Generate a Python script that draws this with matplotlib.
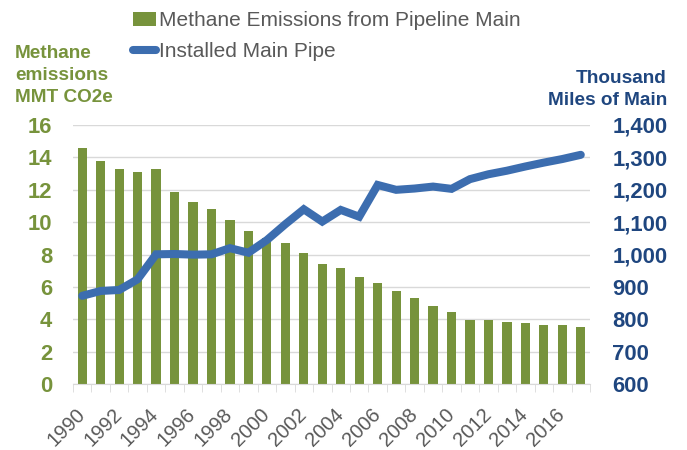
import matplotlib
matplotlib.use('Agg')
import matplotlib.pyplot as plt
import matplotlib.transforms as mtransforms
from matplotlib.patches import Patch
from matplotlib.lines import Line2D
import numpy as np

plt.rcParams['font.family'] = ['Liberation Sans', 'DejaVu Sans']

years = list(range(1990, 2018))
methane = [14.6, 13.78, 13.29, 13.12, 13.29, 11.89, 11.27, 10.82, 10.14, 9.48,
           9.05, 8.70, 8.09, 7.43, 7.17, 6.63, 6.23, 5.76, 5.33, 4.85,
           4.44, 3.99, 3.95, 3.85, 3.76, 3.68, 3.64, 3.54]
main_pipe = [873, 888, 891, 924, 1001, 1002, 1000, 1001, 1020, 1006,
             1045, 1094, 1140, 1102, 1138, 1117, 1215, 1200, 1204, 1210,
             1203, 1233, 1248, 1259, 1272, 1284, 1295, 1308]
left_ticks = [0, 2, 4, 6, 8, 10, 12, 14, 16]
right_ticks = [600, 700, 800, 900, 1000, 1100, 1200, 1300, 1400]

green = '#77933C'
blue = '#3C6DAF'
navy = '#1F467F'
gray = '#595959'

fig = plt.figure(figsize=(6.87, 4.5), dpi=100)
ax = fig.add_axes([73/687, 1 - 384.3/450, (590 - 73)/687, (384.3 - 125)/450])
ax2 = ax.twinx()

x = np.arange(len(years))
ax.bar(x, methane, width=0.5, color=green, zorder=2)
ax.set_ylim(0, 16)
ax.set_xlim(-0.5, len(years) - 0.5)
ax.set_yticks(left_ticks)
ax.yaxis.grid(True, color='#D9D9D9', linewidth=1)
ax.set_axisbelow(True)
for s in ax.spines.values():
    s.set_visible(False)
ax.spines['bottom'].set_visible(True)
ax.spines['bottom'].set_color('#D9D9D9')
ax.tick_params(axis='y', length=0, pad=15, labelsize=15.8, labelcolor=green)
for lb in ax.get_yticklabels():
    lb.set_fontweight('bold')

ax.set_xticks(x[::2])
ax.set_xticklabels([str(y) for y in years[::2]], rotation=45, ha='right',
                   rotation_mode='anchor', fontsize=14.5, color=gray)
ax.set_xticks(np.arange(-0.5, len(years)), minor=True)
ax.tick_params(axis='x', which='major', length=0, pad=15)
ax.tick_params(axis='x', which='minor', length=6, color='#D9D9D9')
shift = mtransforms.ScaledTranslation(-7/100, 0, fig.dpi_scale_trans)
for lb in ax.get_xticklabels():
    lb.set_transform(lb.get_transform() + shift)

ax2.plot(x, main_pipe, color=blue, linewidth=5.8, solid_capstyle='round',
         solid_joinstyle='miter', zorder=3)
ax2.set_ylim(600, 1400)
ax2.set_yticks(right_ticks)
ax2.set_yticklabels([f'{v:,}' for v in right_ticks])
for s in ax2.spines.values():
    s.set_visible(False)
ax2.tick_params(axis='y', length=0, pad=16, labelsize=15.8, labelcolor=navy)
for lb in ax2.get_yticklabels():
    lb.set_fontweight('bold')

fig.text(15/687, 1 - 102/450, 'Methane\nemissions\nMMT CO2e', ha='left', va='baseline',
         fontsize=13.7, fontweight='bold', color=green, linespacing=1.38)
fig.text(667/687, 1 - 105/450, 'Thousand\nMiles of Main', ha='right', va='baseline',
         fontsize=13.7, fontweight='bold', color=navy, linespacing=1.38)

handles = [Patch(facecolor=green, edgecolor='none'),
           Line2D([0], [0], color=blue, linewidth=5.8, solid_capstyle='round')]
fig.legend(handles, ['Methane Emissions from Pipeline Main', 'Installed Main Pipe'],
           loc='upper left', bbox_to_anchor=(125/687, 0.993), frameon=False,
           fontsize=15, labelcolor=gray, handlelength=1.1, handletextpad=0.15,
           labelspacing=0.55, borderaxespad=0)

fig.savefig('out.png', dpi=100, facecolor='white')
